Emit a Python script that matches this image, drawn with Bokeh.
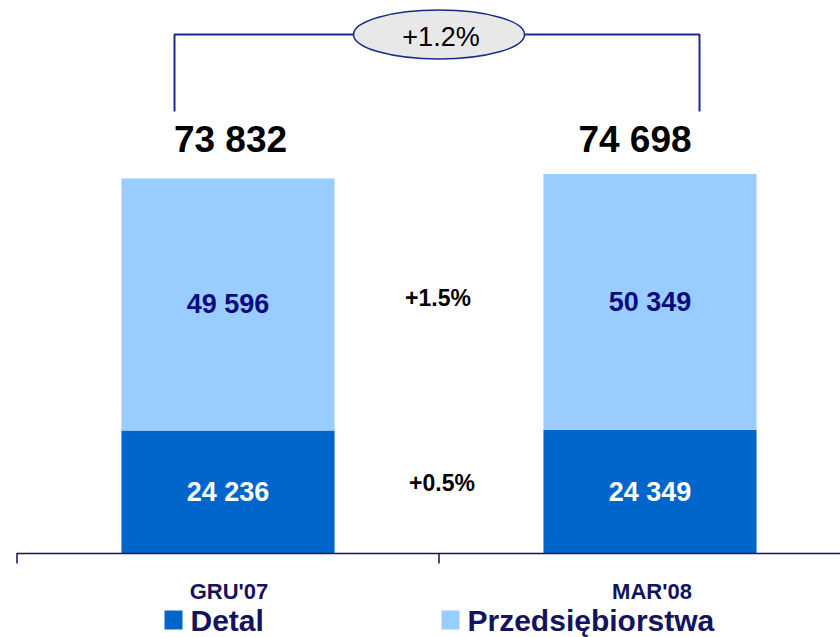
from bokeh.plotting import figure
from bokeh.models import Range1d, ColumnDataSource
from bokeh.core.properties import value
from bokeh.embed import file_html
from bokeh.resources import INLINE

# ---- data ----
categories = ["GRU'07", "MAR'08"]
detal = [24236, 24349]
przedsiebiorstwa = [49596, 50349]
series_names = ["Detal", "Przedsiębiorstwa"]
colors = ["#0066CC", "#99CCFF"]

totals = [d + p for d, p in zip(detal, przedsiebiorstwa)]

def fmt(v):
    return f"{v:,}".replace(",", " ")

def pct(a, b):
    return f"{(b / a - 1) * 100:+.1f}%"

# ---- layout (screen <-> data helpers for annotations) ----
W, H = 840, 637
XS = 422.0          # px per category unit
X_ZERO = 227.5      # page x of first category centre
YS = 0.00508        # px per value unit
Y_ZERO = 553.0      # page y of value 0

X0 = (0 - X_ZERO) / XS
X1 = X0 + W / XS
Y1 = (Y_ZERO - 0) / YS
Y0 = Y1 - H / YS

def sx(px):
    return (px - X_ZERO) / XS

def sy(py):
    return (Y_ZERO - py) / YS

FONT = value("Liberation Sans")
NAVY = "#13135E"
LINE = "#1A2A8A"

p = figure(width=W, height=H, x_range=Range1d(X0, X1), y_range=Range1d(Y0, Y1),
           toolbar_location=None, output_backend="svg", min_border=0)
p.axis.visible = False
p.grid.visible = False
p.outline_line_color = None
p.background_fill_color = "white"
p.border_fill_color = "white"

xs = list(range(len(categories)))

# stacked bars
src = ColumnDataSource(dict(x=xs, detal=detal, przeds=przedsiebiorstwa,
                            top1=detal, top2=totals))
p.vbar(x="x", bottom=0, top="top1", width=0.505, source=src,
       fill_color=colors[0], line_color=None)
p.vbar(x="x", bottom="top1", top="top2", width=0.505, source=src,
       fill_color=colors[1], line_color=None)

# segment labels
p.text(x=xs, y=[d / 2 for d in detal], text=[fmt(v) for v in detal],
       text_font=FONT, text_font_style="bold", text_font_size="27px",
       text_color="white", text_align="center", text_baseline="middle")
p.text(x=xs, y=[d + q / 2 for d, q in zip(detal, przedsiebiorstwa)],
       text=[fmt(v) for v in przedsiebiorstwa],
       text_font=FONT, text_font_style="bold", text_font_size="27px",
       text_color="#0A0A80", text_align="center", text_baseline="middle")

# totals
p.text(x=xs, y=[sy(139)] * 2, text=[fmt(v) for v in totals],
       x_offset=[2.5, -15],
       text_font=FONT, text_font_style="bold", text_font_size="37px",
       text_color="black", text_align="center", text_baseline="middle")

# growth labels between bars
mid = 0.5
avg_d = sum(detal) / 2
avg_p = sum(przedsiebiorstwa) / 2
p.text(x=[mid, mid], y=[avg_d + avg_p / 2, avg_d / 2],
       text=[pct(*przedsiebiorstwa), pct(*detal)],
       x_offset=[-1, 3], y_offset=[-5, -9],
       text_font=FONT, text_font_style="bold", text_font_size="23px",
       text_color="black", text_align="center", text_baseline="middle")

# bracket with ellipse
bx = [sx(174), sx(699)]
p.line(x=[bx[0], bx[0], bx[1], bx[1]], y=[sy(111), sy(34), sy(34), sy(111)],
       line_color=LINE, line_width=2)
p.ellipse(x=[mid], y=[sy(34)], width=171, height=49,
          width_units="screen", height_units="screen",
          fill_color="#E8E8E8", line_color=LINE, line_width=1.5)
p.text(x=[mid], y=[sy(36)], text=[pct(*totals)], x_offset=[2],
       text_font=FONT, text_font_size="27px", text_color="black",
       text_align="center", text_baseline="middle")

# category axis line and ticks
p.segment(x0=[sx(16)], y0=[0], x1=[X1], y1=[0], line_color=NAVY, line_width=1.5)
p.segment(x0=[-0.5, 0.5, 1.5], y0=[0] * 3, x1=[-0.5, 0.5, 1.5], y1=[sy(563)] * 3,
          line_color=NAVY, line_width=1.5)
p.text(x=xs, y=[sy(591)] * 2, text=categories, x_offset=[1, 2],
       text_font=FONT, text_font_style="bold", text_font_size="22px",
       text_color=NAVY, text_align="center", text_baseline="middle")

# legend
lx = [sx(173), sx(450)]
p.rect(x=lx, y=[sy(619.5)] * 2, width=18, height=19,
       width_units="screen", height_units="screen",
       fill_color=colors, line_color=None)
p.text(x=[sx(190), sx(467)], y=[sy(620)] * 2, text=series_names,
       text_font=FONT, text_font_style="bold", text_font_size="30px",
       text_color=NAVY, text_align="left", text_baseline="middle")

open("out.html", "w").write(file_html(p, INLINE))
